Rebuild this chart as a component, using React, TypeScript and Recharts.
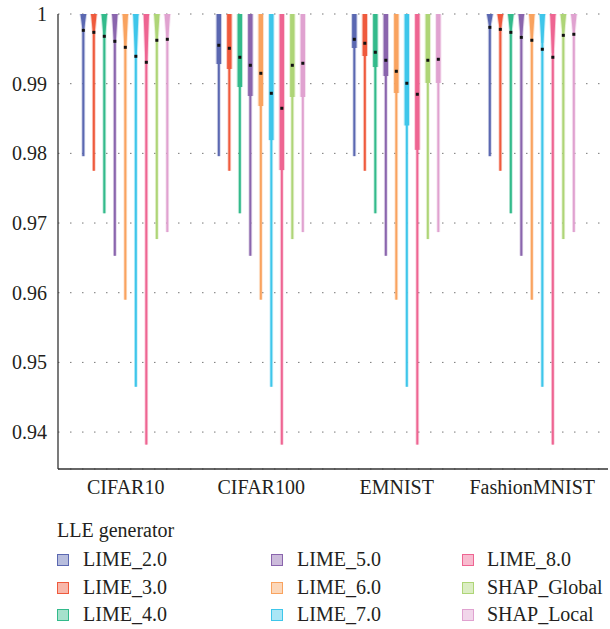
import { BarChart, Bar, XAxis, YAxis, CartesianGrid } from 'recharts';

// datasets on the x axis
const GROUPS = ['CIFAR10', 'CIFAR100', 'EMNIST', 'FashionMNIST'];

// LLE generators (one violin each per dataset)
const SERIES = [
  'LIME_2.0', 'LIME_3.0', 'LIME_4.0', 'LIME_5.0', 'LIME_6.0',
  'LIME_7.0', 'LIME_8.0', 'SHAP_Global', 'SHAP_Local',
];

const COLORS = [
  '#5b68b1', '#ef5a3d', '#33ba8b', '#8a65ad', '#f9a35f',
  '#3ec6ea', '#ee6592', '#aed577', '#e0a2d0',
];

// lowest value per generator (same on every dataset), top is always 1
const MINS = [0.9796, 0.9775, 0.9714, 0.9653, 0.9590, 0.9465, 0.9382, 0.9677, 0.9687];
const MAX = 1;

// medians, one list per dataset
const MED_CIFAR10 = [0.99766, 0.99737, 0.9968, 0.99608, 0.99522, 0.99393, 0.99307, 0.99623, 0.99637];
const MED_CIFAR100 = [0.99551, 0.99508, 0.99379, 0.99264, 0.99149, 0.98862, 0.98647, 0.99264, 0.99293];
const MED_EMNIST = [0.99637, 0.9958, 0.99451, 0.99336, 0.99178, 0.99006, 0.98848, 0.99336, 0.9935];
const MED_FASHION = [0.99809, 0.9978, 0.99737, 0.99665, 0.99623, 0.99494, 0.99379, 0.99694, 0.99709];

// where the thick part of each violin ends
const BODY_CIFAR10 = [0.998, 0.9974, 0.997, 0.996, 0.9953, 0.9941, 0.9931, 0.9963, 0.9966];
const BODY_CIFAR100 = [0.99282, 0.99211, 0.98952, 0.98823, 0.98679, 0.9819, 0.9776, 0.98809, 0.98809];
const BODY_EMNIST = [0.99512, 0.99397, 0.99239, 0.9911, 0.98866, 0.984, 0.9805, 0.9901, 0.9901];
const BODY_FASHION = [0.99842, 0.99813, 0.9977, 0.997, 0.9963, 0.99584, 0.9944, 0.9973, 0.9974];

const Y_TICKS = [0.94, 0.95, 0.96, 0.97, 0.98, 0.99, 1];

const MEDIANS = [MED_CIFAR10, MED_CIFAR100, MED_EMNIST, MED_FASHION];
const BODIES = [BODY_CIFAR10, BODY_CIFAR100, BODY_EMNIST, BODY_FASHION];
const FUNNEL = [true, false, false, true];

const FONT = '"Liberation Serif", Tinos, "Times New Roman", Times, "Noto Serif CJK SC", monospace';
const TEXT = '#231f20';

const data = GROUPS.map((name, gi) => {
  const row: Record<string, any> = { name, funnel: FUNNEL[gi] };
  SERIES.forEach((_, si) => {
    row['s' + si] = [MINS[si], MAX];
    row['m' + si] = MEDIANS[gi][si];
    row['b' + si] = BODIES[gi][si];
  });
  return row;
});

function Violin(props: any, si: number) {
  const { x, y, width, height, payload } = props;
  if (x == null || y == null) return null;
  const top = Math.min(y, y + height);
  const h = Math.abs(height);
  const min = MINS[si];
  const toY = (v: number) => top + ((MAX - v) / (MAX - min)) * h;
  const cx = x + width / 2;
  const by = top + h;
  const qy = toY(payload['b' + si]);
  const my = toY(payload['m' + si]);
  const c = COLORS[si];

  if (payload.funnel) {
    const light = `M${cx - 4},${top} L${cx + 4},${top} L${cx + 3.5},${top + 2} L${cx + 2},${qy} L${cx + 1.8},${by} L${cx - 1.8},${by} L${cx - 2},${qy} L${cx - 3.5},${top + 2} Z`;
    const solid = `M${cx - 3},${top} L${cx + 3},${top} L${cx + 2.6},${top + 2} L${cx + 1},${qy} L${cx - 1},${qy} L${cx - 2.6},${top + 2} Z`;
    return (
      <g>
        <path d={light} fill={c} fillOpacity={0.3} />
        <path d={solid} fill={c} />
        <rect x={cx - 1} y={top} width={2} height={h} fill={c} />
        <rect x={cx - 1.5} y={my - 1.5} width={3} height={3} fill="#111" />
      </g>
    );
  }
  return (
    <g>
      <rect x={cx - 3.2} y={top} width={6.4} height={qy - top} fill={c} fillOpacity={0.3} />
      <rect x={cx - 1.9} y={qy} width={3.8} height={by - qy} fill={c} fillOpacity={0.25} />
      <rect x={cx - 2.2} y={top} width={4.4} height={qy - top} fill={c} />
      <rect x={cx - 1} y={top} width={2} height={h} fill={c} />
      <rect x={cx - 1.5} y={my - 1.5} width={3} height={3} fill="#111" />
    </g>
  );
}

function LegendBox() {
  const cols = [[0, 1, 2], [3, 4, 5], [6, 7, 8]];
  const swatchX = [57, 271, 462];
  const textX = [83, 297, 487];
  const rowTop = [554, 581.5, 609];
  return (
    <div style={{ position: 'absolute', left: 0, top: 0, width: 610, height: 629, pointerEvents: 'none', color: TEXT, fontSize: 20, lineHeight: '20px' }}>
      <div style={{ position: 'absolute', left: 57, top: 520, whiteSpace: 'nowrap', fontFamily: FONT }}>LLE generator</div>
      {cols.map((col, ci) =>
        col.map((si, ri) => (
          <div key={si}>
            <div style={{
              position: 'absolute', left: swatchX[ci], top: rowTop[ri], width: 12, height: 12,
              boxSizing: 'border-box', border: `1.5px solid ${COLORS[si]}`, background: COLORS[si] + '70',
            }} />
            <div style={{ position: 'absolute', left: textX[ci], top: rowTop[ri] - 4.8, whiteSpace: 'nowrap', fontFamily: FONT }}>
              {SERIES[si]}
            </div>
          </div>
        ))
      )}
    </div>
  );
}

export default function App() {
  return (
    <div style={{ position: 'absolute', left: 0, top: 0, width: 610, height: 629, background: '#fff', fontFamily: FONT }}>
      <BarChart
        width={610}
        height={629}
        data={data}
        margin={{ top: 14, right: 2, left: 0, bottom: 126 }}
        barCategoryGap="15%"
        barGap={0.5}
      >
        <CartesianGrid vertical={false} stroke="#777" strokeDasharray="1.5 10.5" />
        <XAxis
          dataKey="name"
          padding={{ left: 0, right: 8 }}
          tickLine={false}
          axisLine={{ stroke: '#333', strokeWidth: 1.3 }}
          tickMargin={5}
          height={34}
          tick={{ fill: TEXT, fontSize: 20, fontFamily: FONT }}
        />
        <YAxis
          type="number"
          domain={[0.9347, 1]}
          ticks={Y_TICKS}
          width={58}
          tickLine={false}
          tickMargin={5}
          axisLine={{ stroke: '#333', strokeWidth: 1.3 }}
          tick={{ fill: TEXT, fontSize: 20, fontFamily: FONT }}
          tickFormatter={(v: number) => (v === 1 ? '1' : v.toFixed(2))}
          allowDataOverflow
        />
        {SERIES.map((s, si) => (
          <Bar
            key={s}
            dataKey={'s' + si}
            name={s}
            fill={COLORS[si]}
            isAnimationActive={false}
            shape={(p: any) => Violin(p, si)}
          />
        ))}
      </BarChart>
      <LegendBox />
    </div>
  );
}
